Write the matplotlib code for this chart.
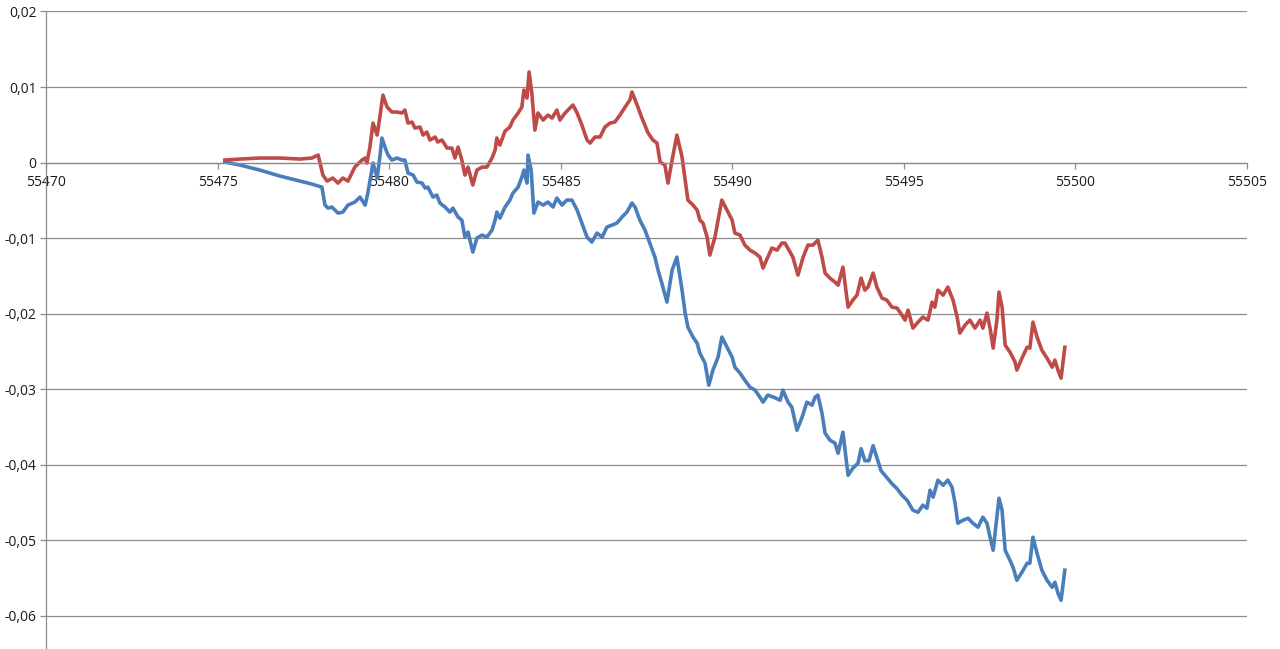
import matplotlib.pyplot as plt

# Values
red_x = [55475.20, 55475.64, 55476.22, 55476.81, 55477.39, 55477.74, 55477.92, 55478.06,
         55478.18, 55478.35, 55478.50, 55478.64, 55478.79, 55478.99, 55479.20, 55479.29,
         55479.34, 55479.43, 55479.52, 55479.64, 55479.72, 55479.81, 55479.93, 55480.07,
         55480.22, 55480.36, 55480.45, 55480.54, 55480.66, 55480.74, 55480.89, 55480.98,
         55481.09, 55481.18, 55481.33, 55481.41, 55481.53, 55481.68, 55481.82, 55481.91,
         55482.00, 55482.11, 55482.20, 55482.29, 55482.43, 55482.55, 55482.70, 55482.84,
         55482.99, 55483.08, 55483.13, 55483.22, 55483.37, 55483.51, 55483.60, 55483.75,
         55483.86, 55483.92, 55484.01, 55484.07, 55484.15, 55484.24, 55484.33, 55484.48,
         55484.62, 55484.74, 55484.88, 55484.97, 55485.12, 55485.26, 55485.35, 55485.47,
         55485.61, 55485.76, 55485.85, 55485.99, 55486.14, 55486.28, 55486.43, 55486.57,
         55486.72, 55486.87, 55487.01, 55487.07, 55487.22, 55487.36, 55487.54, 55487.68,
         55487.80, 55487.89, 55488.03, 55488.12, 55488.24, 55488.38, 55488.53, 55488.62,
         55488.70, 55488.85, 55488.97, 55489.05, 55489.14, 55489.26, 55489.34, 55489.49,
         55489.58, 55489.69, 55489.84, 55489.99, 55490.07, 55490.22, 55490.36, 55490.51,
         55490.66, 55490.80, 55490.89, 55491.03, 55491.15, 55491.30, 55491.44, 55491.53,
         55491.68, 55491.76, 55491.91, 55492.06, 55492.20, 55492.35, 55492.49, 55492.61,
         55492.70, 55492.84, 55492.99, 55493.08, 55493.22, 55493.37, 55493.51, 55493.63,
         55493.75, 55493.86, 55493.95, 55494.10, 55494.21, 55494.36, 55494.50, 55494.65,
         55494.80, 55494.94, 55495.03, 55495.12, 55495.26, 55495.41, 55495.55, 55495.70,
         55495.82, 55495.90, 55495.99, 55496.14, 55496.28, 55496.43, 55496.55, 55496.63,
         55496.78, 55496.92, 55497.07, 55497.22, 55497.30, 55497.42, 55497.51, 55497.60,
         55497.71, 55497.77, 55497.86, 55497.95, 55498.09, 55498.24, 55498.29, 55498.44,
         55498.59, 55498.67, 55498.76, 55498.88, 55499.02, 55499.17, 55499.32, 55499.40,
         55499.49, 55499.58, 55499.69]
red_y = [0.00033, 0.00046, 0.0006, 0.0006, 0.00046, 0.0006, 0.001, -0.00166,
         -0.00245, -0.00205, -0.00272, -0.00205, -0.00245, -0.0006, 0.00033, 0.0006,
         -0.00007, 0.00205, 0.00523, 0.00364, 0.00603, 0.00894, 0.00735, 0.00669,
         0.00669, 0.00656, 0.00695, 0.00523, 0.00536, 0.00457, 0.0047, 0.00364,
         0.00404, 0.00298, 0.00338, 0.00272, 0.00298, 0.00192, 0.00192, 0.0006,
         0.00205, 0.00033, -0.00166, -0.0006, -0.00298, -0.00099, -0.0006, -0.0006,
         0.0006, 0.00166, 0.00325, 0.00232, 0.00417, 0.0047, 0.00563, 0.00656,
         0.00735, 0.0096, 0.00854, 0.01199, 0.0092, 0.0043, 0.00656, 0.00563,
         0.00629, 0.00589, 0.00695, 0.00563, 0.00656, 0.00722, 0.00762, 0.00656,
         0.00497, 0.00298, 0.00258, 0.00338, 0.00338, 0.0047, 0.00523, 0.00536,
         0.00629, 0.00735, 0.00828, 0.00934, 0.00762, 0.00589, 0.00391, 0.00298,
         0.00258, 0.00007, -0.00033, -0.00272, 0.00033, 0.00364, 0.00073, -0.00232,
         -0.00497, -0.00563, -0.00629, -0.00762, -0.00801, -0.00987, -0.01225, -0.00987,
         -0.00762, -0.00497, -0.00629, -0.00762, -0.00934, -0.0096, -0.01093, -0.01159,
         -0.01199, -0.01252, -0.01397, -0.01252, -0.01132, -0.01159, -0.01066, -0.01066,
         -0.01185, -0.01252, -0.0149, -0.01252, -0.01093, -0.01093, -0.01026, -0.01252,
         -0.01464, -0.0153, -0.01583, -0.01623, -0.01384, -0.01914, -0.01821, -0.01755,
         -0.0153, -0.01689, -0.01649, -0.01464, -0.01649, -0.01795, -0.01821, -0.01914,
         -0.01927, -0.0202, -0.02086, -0.01954, -0.02192, -0.02113, -0.02046, -0.02086,
         -0.01848, -0.01914, -0.01689, -0.01755, -0.01649, -0.01821, -0.02046, -0.02258,
         -0.02152, -0.02086, -0.02192, -0.02086, -0.02192, -0.01993, -0.02192, -0.02457,
         -0.02086, -0.01715, -0.01914, -0.02417, -0.0251, -0.02642, -0.02748, -0.02589,
         -0.02444, -0.02457, -0.02113, -0.02311, -0.02483, -0.02589, -0.02709, -0.02616,
         -0.02748, -0.02854, -0.02444]

blue_x = [55475.20, 55475.64, 55476.22, 55476.81, 55477.39, 55477.74, 55477.92, 55478.03,
          55478.12, 55478.21, 55478.32, 55478.50, 55478.64, 55478.79, 55478.99, 55479.14,
          55479.29, 55479.37, 55479.52, 55479.64, 55479.72, 55479.78, 55479.90, 55479.96,
          55480.07, 55480.22, 55480.36, 55480.45, 55480.54, 55480.69, 55480.80, 55480.95,
          55481.04, 55481.12, 55481.27, 55481.38, 55481.47, 55481.62, 55481.76, 55481.85,
          55482.00, 55482.11, 55482.20, 55482.29, 55482.43, 55482.55, 55482.70, 55482.84,
          55482.99, 55483.08, 55483.13, 55483.22, 55483.37, 55483.51, 55483.60, 55483.75,
          55483.86, 55483.92, 55484.01, 55484.04, 55484.13, 55484.21, 55484.33, 55484.48,
          55484.62, 55484.77, 55484.88, 55485.03, 55485.17, 55485.32, 55485.47, 55485.61,
          55485.76, 55485.90, 55486.05, 55486.20, 55486.34, 55486.49, 55486.63, 55486.78,
          55486.92, 55487.07, 55487.16, 55487.30, 55487.45, 55487.59, 55487.74, 55487.83,
          55487.94, 55488.09, 55488.24, 55488.38, 55488.53, 55488.62, 55488.70, 55488.85,
          55488.97, 55489.05, 55489.20, 55489.31, 55489.43, 55489.58, 55489.69, 55489.84,
          55489.99, 55490.07, 55490.22, 55490.36, 55490.51, 55490.66, 55490.80, 55490.89,
          55491.03, 55491.20, 55491.39, 55491.47, 55491.62, 55491.73, 55491.88, 55492.03,
          55492.17, 55492.32, 55492.41, 55492.49, 55492.61, 55492.70, 55492.84, 55492.99,
          55493.08, 55493.22, 55493.37, 55493.51, 55493.66, 55493.75, 55493.86, 55493.98,
          55494.10, 55494.21, 55494.33, 55494.50, 55494.65, 55494.80, 55494.94, 55495.09,
          55495.26, 55495.41, 55495.55, 55495.67, 55495.76, 55495.85, 55495.99, 55496.14,
          55496.28, 55496.40, 55496.49, 55496.57, 55496.72, 55496.87, 55497.01, 55497.16,
          55497.30, 55497.42, 55497.51, 55497.60, 55497.71, 55497.77, 55497.86, 55497.95,
          55498.09, 55498.18, 55498.29, 55498.44, 55498.59, 55498.67, 55498.76, 55498.88,
          55499.02, 55499.17, 55499.32, 55499.40, 55499.49, 55499.58, 55499.69]
blue_y = [0.00007, -0.00033, -0.00099, -0.00179, -0.00245, -0.00285, -0.00311, -0.00325,
          -0.00563, -0.00603, -0.00589, -0.00669, -0.00656, -0.00563, -0.00523, -0.00457,
          -0.00563, -0.00404, -0.00007, -0.00205, 0.00073, 0.00325, 0.00166, 0.00099,
          0.00033, 0.0006, 0.00033, 0.00033, -0.00139, -0.00166, -0.00258, -0.00272,
          -0.00338, -0.00325, -0.00457, -0.0043, -0.00536, -0.00589, -0.00656, -0.00603,
          -0.00722, -0.00762, -0.00987, -0.0092, -0.01185, -0.01, -0.0096, -0.00987,
          -0.00894, -0.00762, -0.00656, -0.00735, -0.00589, -0.00497, -0.00404, -0.00325,
          -0.00192, -0.00099, -0.00272, 0.00099, -0.00099, -0.00669, -0.00523, -0.00563,
          -0.00523, -0.00589, -0.0047, -0.00563, -0.00497, -0.00497, -0.00629, -0.00801,
          -0.00987, -0.01053, -0.00934, -0.00987, -0.00854, -0.00828, -0.00801, -0.00722,
          -0.00656, -0.00536, -0.00589, -0.00762, -0.00894, -0.01066, -0.01252, -0.01424,
          -0.01596, -0.01848, -0.01424, -0.01252, -0.01689, -0.01993, -0.02179, -0.02311,
          -0.02391, -0.02523, -0.02656, -0.02947, -0.02748, -0.02576, -0.02311, -0.02444,
          -0.02576, -0.02709, -0.02788, -0.02881, -0.02974, -0.03013, -0.03106, -0.03172,
          -0.03079, -0.03106, -0.03146, -0.03013, -0.03172, -0.03238, -0.03543, -0.03371,
          -0.03172, -0.03212, -0.03106, -0.03079, -0.03318, -0.03583, -0.03675, -0.03715,
          -0.03848, -0.0357, -0.0414, -0.04046, -0.0398, -0.03788, -0.03947, -0.03947,
          -0.03748, -0.03907, -0.04079, -0.04172, -0.04252, -0.04318, -0.04404, -0.0447,
          -0.04603, -0.04629, -0.04536, -0.04576, -0.04338, -0.0443, -0.04205, -0.04272,
          -0.04205, -0.04298, -0.0451, -0.04775, -0.04735, -0.04709, -0.04775, -0.04828,
          -0.04695, -0.04775, -0.0496, -0.05132, -0.04695, -0.04444, -0.04603, -0.05132,
          -0.05265, -0.05358, -0.0553, -0.05424, -0.05305, -0.05305, -0.0496, -0.05172,
          -0.05397, -0.0553, -0.05623, -0.05556, -0.05702, -0.05795, -0.05397]

x_ticks = [55470, 55475, 55480, 55485, 55490, 55495, 55500, 55505]
y_ticks = [-0.06, -0.05, -0.04, -0.03, -0.02, -0.01, 0.0, 0.01, 0.02]
y_tick_labels = ['-0,06', '-0,05', '-0,04', '-0,03', '-0,02', '-0,01', '0', '0,01', '0,02']

grid_color = '#8c8c8c'
plt.rcParams['font.family'] = ['Open Sans', 'DejaVu Sans']

fig = plt.figure(figsize=(12.8, 6.49), dpi=100)
ax = fig.add_axes([0.0363, 0.0, 0.9379, 0.9823])

ax.plot(blue_x, blue_y, color='#4a7ebb', linewidth=2.6, solid_joinstyle='round')
ax.plot(red_x, red_y, color='#be4b48', linewidth=2.6, solid_joinstyle='round')

ax.set_xlim(55470, 55505)
ax.set_ylim(-0.0644, 0.02)

ax.set_yticks(y_ticks)
ax.set_yticklabels(y_tick_labels)
ax.set_xticks(x_ticks)
ax.set_xticklabels([str(v) for v in x_ticks])

ax.yaxis.grid(True, color=grid_color, linewidth=0.9)
ax.set_axisbelow(True)

# x axis crosses at y = 0, Excel style
ax.spines['bottom'].set_position(('data', 0))
ax.spines['top'].set_visible(False)
ax.spines['right'].set_visible(False)
for side in ['bottom', 'left']:
    ax.spines[side].set_color(grid_color)
    ax.spines[side].set_linewidth(0.9)

ax.tick_params(axis='both', colors=grid_color, length=4, width=0.9, labelsize=10,
               labelcolor='#1a1a1a')
ax.tick_params(axis='y', pad=3)
ax.tick_params(axis='x', pad=5)

fig.savefig('out.png', dpi=100)
